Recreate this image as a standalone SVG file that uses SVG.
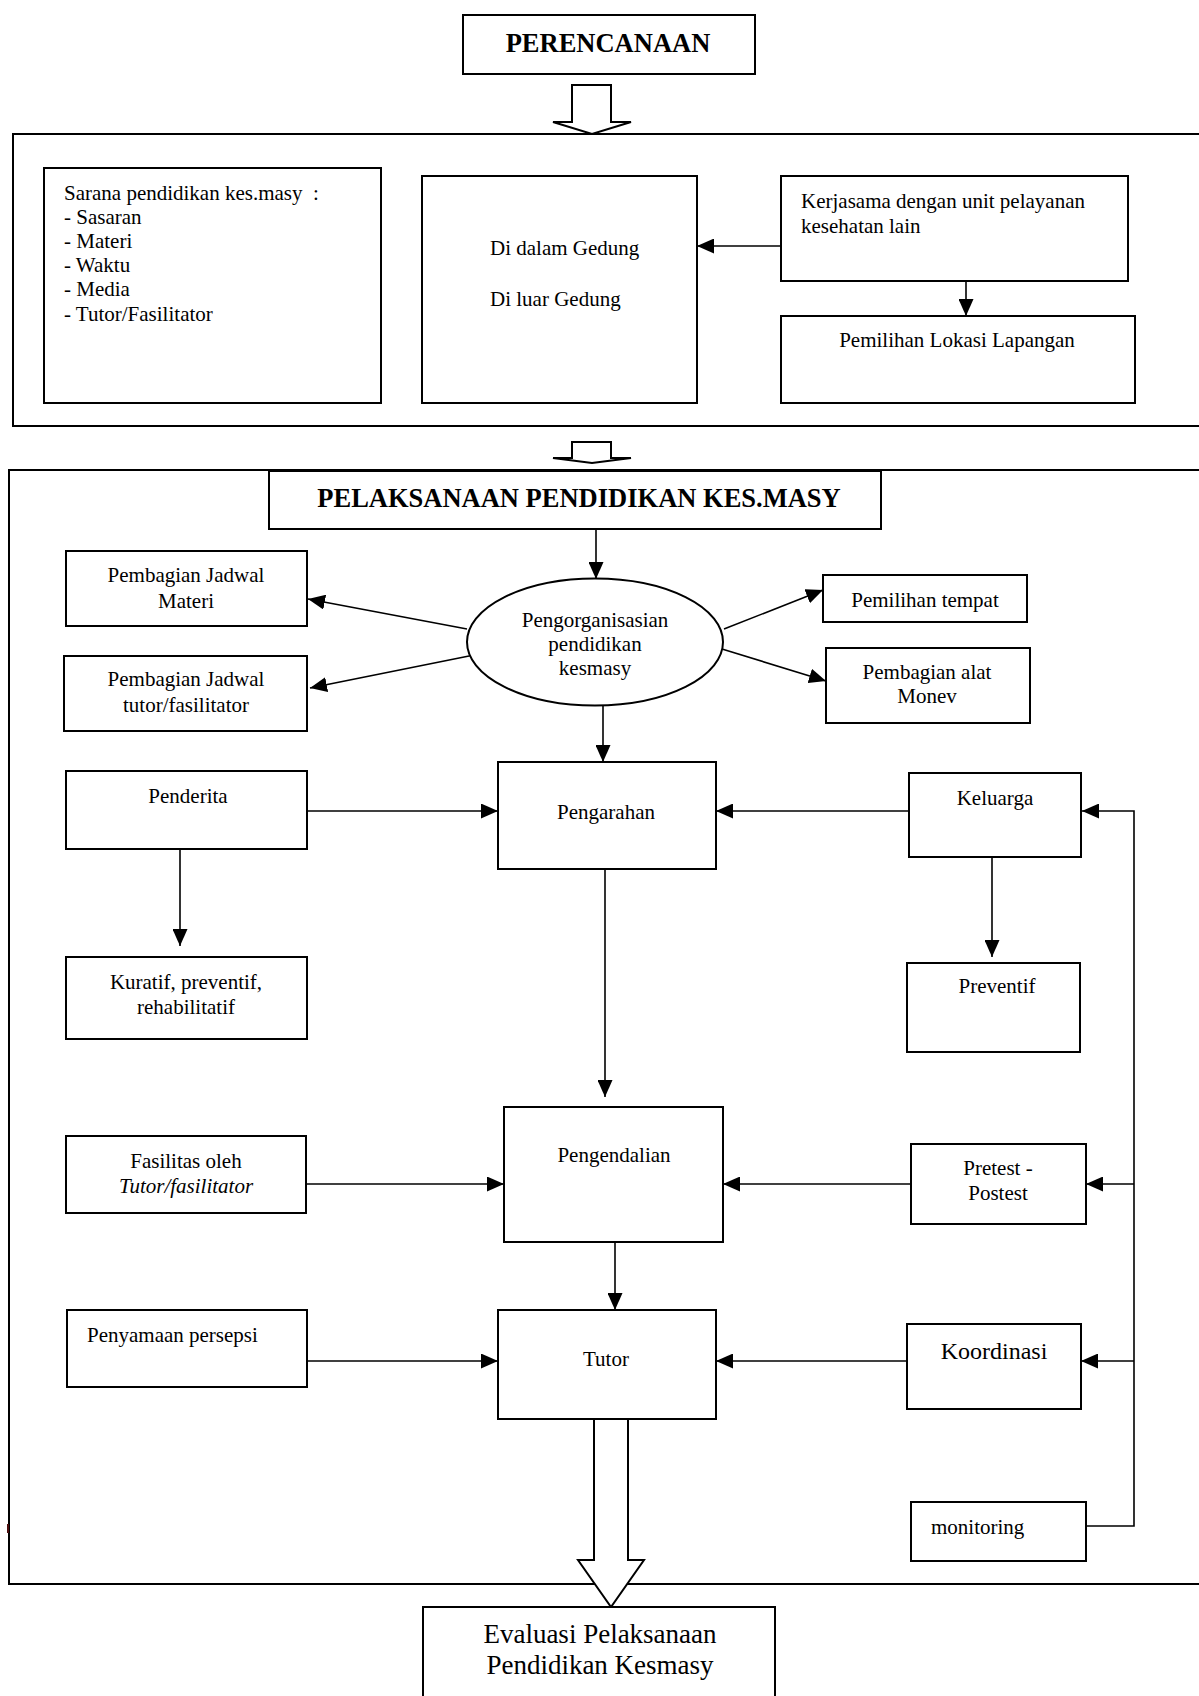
<svg xmlns="http://www.w3.org/2000/svg" width="1199" height="1696" viewBox="0 0 1199 1696">
<defs>
<style>
.b{fill:#fff;stroke:#000;stroke-width:2}
.o{fill:none;stroke:#000;stroke-width:2}
.t{font-family:"Liberation Serif","Times New Roman",serif;font-size:21px;fill:#000}
.c{text-anchor:middle}
.h{font-weight:bold;font-size:26.5px}
.l{fill:none;stroke:#000;stroke-width:1.6}
.ha{fill:#fff;stroke:#000;stroke-width:2;stroke-linejoin:miter}
</style>
<marker id="a" markerUnits="userSpaceOnUse" markerWidth="17" markerHeight="15" refX="17" refY="7.5" orient="auto">
<path d="M0,0 L17,7.5 L0,15 z" fill="#000"/>
</marker>
</defs>
<rect width="1199" height="1696" fill="#fff"/>

<g id="frame-perencanaan"><rect class="o" x="13" y="134" width="1200" height="292"/></g>
<g id="frame-pelaksanaan"><rect class="o" x="9" y="470" width="1204" height="1114"/></g>
<rect x="7" y="1524" width="2" height="9" fill="#4a0c0c"/>

<g id="connectors">
<path class="l" d="M781,246 H697" marker-end="url(#a)"/>
<path class="l" d="M966,281 V316" marker-end="url(#a)"/>
<path class="l" d="M596,529 V579" marker-end="url(#a)"/>
<path class="l" d="M467,629 L308,599" marker-end="url(#a)"/>
<path class="l" d="M474,655 L310,688" marker-end="url(#a)"/>
<path class="l" d="M724,629 L823,590" marker-end="url(#a)"/>
<path class="l" d="M722,649 L826,681" marker-end="url(#a)"/>
<path class="l" d="M603,706 V762" marker-end="url(#a)"/>
<path class="l" d="M307,811 H498" marker-end="url(#a)"/>
<path class="l" d="M909,811 H716" marker-end="url(#a)"/>
<path class="l" d="M1086,1526 H1134 V811 H1082" marker-end="url(#a)"/>
<path class="l" d="M180,849 V946" marker-end="url(#a)"/>
<path class="l" d="M992,857 V957" marker-end="url(#a)"/>
<path class="l" d="M605,869 V1097" marker-end="url(#a)"/>
<path class="l" d="M306,1184 H504" marker-end="url(#a)"/>
<path class="l" d="M911,1184 H723" marker-end="url(#a)"/>
<path class="l" d="M1134,1184 H1086" marker-end="url(#a)"/>
<path class="l" d="M615,1242 V1310" marker-end="url(#a)"/>
<path class="l" d="M307,1361 H498" marker-end="url(#a)"/>
<path class="l" d="M907,1361 H716" marker-end="url(#a)"/>
<path class="l" d="M1134,1361 H1081" marker-end="url(#a)"/>
<path class="ha" d="M572,85 H611 V122 H631 L592,134 L553,122 H572 Z"/>
<path class="ha" d="M572,442 H611 V458 H631 L592,463 L553,458 H572 Z"/>
<path class="ha" d="M594,1419 H628 V1560 H644 L611,1607 L578,1560 H594 Z"/>
</g>

<g id="perencanaan"><rect class="b" x="463" y="15" width="292" height="59"/><text class="t c h" x="608" y="52">PERENCANAAN</text></g>

<g id="sarana"><rect class="b" x="44" y="168" width="337" height="235"/>
<text class="t" x="64" y="200">Sarana pendidikan kes.masy &#160;:</text>
<text class="t" x="64" y="224">- Sasaran</text>
<text class="t" x="64" y="248">- Materi</text>
<text class="t" x="64" y="272">- Waktu</text>
<text class="t" x="64" y="296">- Media</text>
<text class="t" x="64" y="321">- Tutor/Fasilitator</text></g>

<g id="gedung"><rect class="b" x="422" y="176" width="275" height="227"/>
<text class="t" x="490" y="255">Di dalam Gedung</text>
<text class="t" x="490" y="306">Di luar Gedung</text></g>

<g id="kerjasama"><rect class="b" x="781" y="176" width="347" height="105"/>
<text class="t" x="801" y="208">Kerjasama dengan unit pelayanan</text>
<text class="t" x="801" y="233">kesehatan lain</text></g>

<g id="lokasi"><rect class="b" x="781" y="316" width="354" height="87"/>
<text class="t c" x="957" y="347">Pemilihan Lokasi Lapangan</text></g>

<g id="pelaksanaan"><rect class="b" x="269" y="471" width="612" height="58"/><text class="t c h" x="579" y="507">PELAKSANAAN PENDIDIKAN KES.MASY</text></g>

<g id="pengorganisasian"><ellipse class="b" cx="595" cy="642" rx="128" ry="63.5"/>
<text class="t c" x="595" y="627">Pengorganisasian</text>
<text class="t c" x="595" y="651">pendidikan</text>
<text class="t c" x="595" y="675">kesmasy</text></g>

<g id="jadwal-materi"><rect class="b" x="66" y="551" width="241" height="75"/>
<text class="t c" x="186" y="582">Pembagian Jadwal</text>
<text class="t c" x="186" y="608">Materi</text></g>

<g id="jadwal-tutor"><rect class="b" x="64" y="656" width="243" height="75"/>
<text class="t c" x="186" y="686">Pembagian Jadwal</text>
<text class="t c" x="186" y="712">tutor/fasilitator</text></g>

<g id="tempat"><rect class="b" x="823" y="575" width="204" height="47"/>
<text class="t c" x="925" y="607">Pemilihan tempat</text></g>

<g id="alat"><rect class="b" x="826" y="648" width="204" height="75"/>
<text class="t c" x="927" y="679">Pembagian alat</text>
<text class="t c" x="927" y="703">Monev</text></g>

<g id="penderita"><rect class="b" x="66" y="771" width="241" height="78"/>
<text class="t c" x="188" y="803">Penderita</text></g>

<g id="pengarahan"><rect class="b" x="498" y="762" width="218" height="107"/>
<text class="t c" x="606" y="819">Pengarahan</text></g>

<g id="keluarga"><rect class="b" x="909" y="773" width="172" height="84"/>
<text class="t c" x="995" y="805">Keluarga</text></g>

<g id="kuratif"><rect class="b" x="66" y="957" width="241" height="82"/>
<text class="t c" x="186" y="989">Kuratif, preventif,</text>
<text class="t c" x="186" y="1014">rehabilitatif</text></g>

<g id="preventif"><rect class="b" x="907" y="963" width="173" height="89"/>
<text class="t c" x="997" y="993">Preventif</text></g>

<g id="pengendalian"><rect class="b" x="504" y="1107" width="219" height="135"/>
<text class="t c" x="614" y="1162">Pengendalian</text></g>

<g id="fasilitas"><rect class="b" x="66" y="1136" width="240" height="77"/>
<text class="t c" x="186" y="1168">Fasilitas oleh</text>
<text class="t c" x="186" y="1193" style="font-style:italic">Tutor/fasilitator</text></g>

<g id="pretest"><rect class="b" x="911" y="1144" width="175" height="80"/>
<text class="t c" x="998" y="1175">Pretest -</text>
<text class="t c" x="998" y="1200">Postest</text></g>

<g id="penyamaan"><rect class="b" x="67" y="1310" width="240" height="77"/>
<text class="t" x="87" y="1342">Penyamaan persepsi</text></g>

<g id="tutor"><rect class="b" x="498" y="1310" width="218" height="109"/>
<text class="t c" x="606" y="1366">Tutor</text></g>

<g id="koordinasi"><rect class="b" x="907" y="1324" width="174" height="85"/>
<text class="t c" x="994" y="1359" style="font-size:24px">Koordinasi</text></g>

<g id="monitoring"><rect class="b" x="911" y="1502" width="175" height="59"/>
<text class="t" x="931" y="1534">monitoring</text></g>

<g id="evaluasi"><rect class="b" x="423" y="1607" width="352" height="100"/>
<text class="t c" x="600" y="1643" style="font-size:27px">Evaluasi Pelaksanaan</text>
<text class="t c" x="600" y="1674" style="font-size:27px">Pendidikan Kesmasy</text></g>
</svg>
